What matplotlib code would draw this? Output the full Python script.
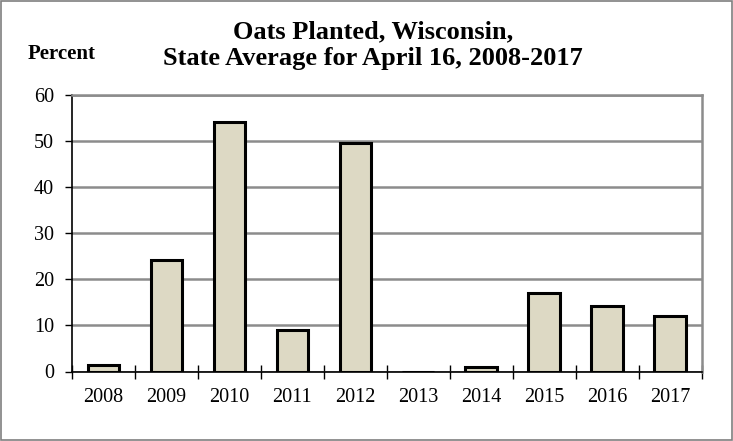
import numpy as np
import matplotlib.pyplot as plt
from matplotlib.patches import Rectangle

years = ['2008', '2009', '2010', '2011', '2012', '2013', '2014', '2015', '2016', '2017']
percent = [1.3, 24.2, 54.1, 9.0, 49.6, 0.0, 0.9, 17.0, 14.1, 12.0]

plt.rcParams['font.family'] = ['Liberation Serif', 'DejaVu Serif']

fig = plt.figure(figsize=(7.33, 4.41), dpi=100)
ax = fig.add_axes([72 / 733, 1 - 371.5 / 441, 629.5 / 733, 277 / 441])

x = np.arange(len(years))
ax.bar(x, percent, width=0.5, color='#ddd9c4', edgecolor='black', linewidth=2.2, zorder=3)

ax.set_xlim(-0.5, len(years) - 0.5)
ax.set_ylim(0, 60)
ax.set_yticks(range(0, 61, 10))
ax.set_xticks(x)
ax.set_xticklabels(years)
ax.set_xticks(np.arange(-0.5, len(years), 1), minor=True)
ax.tick_params(axis='x', which='major', length=0, labelsize=14.5, pad=12)
ax.tick_params(axis='x', which='minor', length=10, direction='inout', width=1)
ax.tick_params(axis='y', length=5, direction='out', width=1, labelsize=14.5, pad=8)

ax.yaxis.grid(True, color='#8c8c8c', linewidth=1.8, zorder=0)
ax.set_axisbelow(True)

for side in ['top', 'right']:
    ax.spines[side].set_color('#8c8c8c')
    ax.spines[side].set_linewidth(1.8)
ax.spines['left'].set_color('black')
ax.spines['bottom'].set_color('black')
ax.spines['left'].set_linewidth(1.2)
ax.spines['bottom'].set_linewidth(1.2)

fig.text(373 / 733, 1 - 38 / 441, 'Oats Planted, Wisconsin,', ha='center', va='baseline',
         fontsize=19, fontweight='bold')
fig.text(373 / 733, 1 - 65 / 441, 'State Average for April 16, 2008-2017', ha='center',
         va='baseline', fontsize=19, fontweight='bold')
fig.text(62 / 733, 1 - 59 / 441, 'Percent', ha='center', va='baseline',
         fontsize=15, fontweight='bold')

fig.patches.append(Rectangle((1 / 733, 1 / 441), 731 / 733, 439 / 441, transform=fig.transFigure,
                             fill=False, edgecolor='#7f7f7f', linewidth=1.2))

fig.savefig('out.png', dpi=100)
